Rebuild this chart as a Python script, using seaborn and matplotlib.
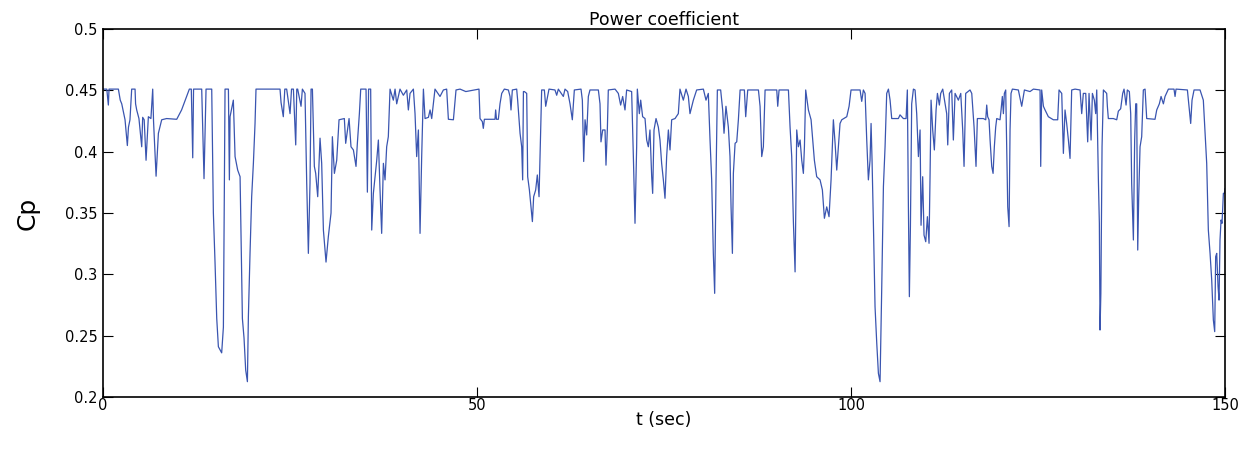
import numpy as np
import pandas as pd
import matplotlib
matplotlib.use("Agg")
import matplotlib.pyplot as plt
import seaborn as sns

title = "Power coefficient"
x_label = "t (sec)"
y_label = "Cp"
x_ticks = [0, 50, 100, 150]
y_ticks = [0.2, 0.25, 0.3, 0.35, 0.4, 0.45, 0.5]
y_tick_labels = ["0.2", "0.25", "0.3", "0.35", "0.4", "0.45", "0.5"]

t_sec = [
    0, 0.5, 0.71, 0.8, 2.05, 2.3, 2.5, 2.94, 3.25, 3.4, 3.6, 3.83, 4.28, 4.35, 4.5, 4.8,
    5.17, 5.3, 5.5, 5.75, 6.06, 6.4, 6.64, 6.75, 7.09, 7.4, 7.84, 8.5, 9.85, 10.5,
    11.54, 11.8, 11.99, 12.1, 13.19, 13.5, 13.77, 14.53, 14.75, 14.97, 15.2, 15.42,
    15.86, 16.09, 16.31, 16.76, 16.89,
    16.98, 17.42, 17.65, 18.0, 18.32, 18.45, 18.63, 18.85, 19.07, 19.3, 19.43, 19.65,
    19.87, 20.1, 20.32, 20.45, 22.0, 23.66, 23.8, 24.1, 24.3, 24.55, 25.0, 25.2, 25.45,
    25.76, 25.9, 26.02, 26.47, 26.65, 27.0, 27.23, 27.45, 27.67, 27.81, 27.99, 28.25,
    28.43, 28.7, 29.01, 29.23, 29.46, 29.81, 30.12, 30.48, 30.66, 30.93, 31.24, 31.55,
    32.26, 32.44, 32.89, 33.15, 33.47, 33.82, 34.0, 34.27, 34.45, 35.16, 35.34, 35.5,
    35.78, 35.92, 36.14, 36.36, 36.59, 36.81, 37.03, 37.25, 37.48, 37.7, 37.92, 38.14,
    38.37, 38.81, 39.04, 39.26, 39.7, 40.15, 40.6, 40.82, 41.04, 41.49, 41.71, 41.93,
    42.16, 42.38, 42.6, 42.83, 43.05, 43.5, 43.72, 43.94, 44.38, 45.05, 45.5, 45.94,
    46.17, 46.84, 47.19, 47.73, 48.5, 50.26,
    50.4, 50.71, 50.84, 50.98, 52.4, 52.49, 52.6, 52.85, 53.07, 53.3, 53.65, 54.19,
    54.41, 54.54, 54.72, 55.3, 55.43, 55.75, 55.97, 56.1, 56.2, 56.33, 56.64, 56.77,
    57.0, 57.22, 57.4, 57.57, 57.84, 58.06, 58.29, 58.46, 58.64, 59.0, 59.18, 59.44,
    59.62, 60.42, 60.65, 60.87, 61.54, 61.76, 62.12, 62.43, 62.74, 63.01, 63.9, 64.08,
    64.26, 64.44, 64.66, 64.88, 65.1, 66.22, 66.44, 66.57, 66.8, 67.11, 67.24, 67.42,
    67.55,
    68.45, 68.89, 69.2, 69.47, 69.78, 70.0, 70.67, 70.9, 71.12, 71.34, 71.43, 71.7,
    71.88, 72.14, 72.46, 72.68, 72.9, 73.12, 73.35, 73.48, 73.66, 73.93, 74.24, 74.46,
    74.68, 74.91, 75.13, 75.35, 75.58, 75.8, 76.02, 76.47, 76.91, 77.13, 77.58, 77.94,
    78.25, 78.47, 78.92, 79.36, 80.26, 80.61, 80.92, 81.15, 81.37, 81.59, 81.77, 81.95,
    82.13, 82.57, 82.84, 83.02, 83.28, 83.6, 83.82,
    83.96, 84.14, 84.27, 84.5, 84.72, 84.94, 85.17, 85.74, 85.92, 86.19, 87.62, 87.84,
    88.06, 88.28, 88.51, 90.07, 90.2, 90.38, 91.63, 91.85, 92.07, 92.3, 92.52, 92.74,
    92.96, 93.19, 93.41, 93.63, 93.77, 93.94, 94.3, 94.66, 94.84, 95.1, 95.41, 95.86,
    96.17, 96.44, 96.75, 97.06, 97.33, 97.64, 97.87, 98.09, 98.31, 98.53, 98.76, 99.43,
    99.74, 100.0, 101.21, 101.43, 101.65, 101.88, 102.1, 102.32, 102.54, 102.68, 102.81,
    102.99, 103.21, 103.44, 103.66, 103.88, 104.1, 104.33, 104.55, 104.77, 105.0,
    105.22, 105.44, 106.33, 106.55, 107.0, 107.36, 107.53, 107.67, 107.8, 107.94,
    108.11, 108.34, 108.56, 108.78, 109.01, 109.23, 109.36, 109.58, 109.76, 109.99,
    110.21, 110.43, 110.57, 110.7, 110.92, 111.14, 111.37, 111.55, 111.81, 111.99,
    112.26, 112.79, 112.93, 113.15, 113.46, 113.68, 113.91, 114.35, 114.67, 114.93,
    115.11, 115.33, 115.91, 116.14, 116.45, 116.71, 116.89, 117.69, 118.01, 118.14,
    118.27, 118.45, 118.59, 118.81, 118.99, 119.16, 119.34, 119.48, 119.92, 120.06,
    120.23, 120.37, 120.5, 120.68, 120.81, 120.95, 121.13, 121.26, 121.39, 121.57,
    122.37, 122.82, 123.18, 123.93, 124.38, 125.27, 125.36, 125.49, 125.72, 125.94,
    126.38, 127.05, 127.63, 127.81, 128.17, 128.39, 128.61, 128.83, 129.06, 129.28,
    129.5, 129.95, 130.62, 130.84, 131.06, 131.38, 131.64, 131.82, 132.09, 132.27,
    132.53, 132.71, 132.85, 133.07, 133.2, 133.29, 133.4, 133.56, 133.74,
    134.18, 134.27, 134.4, 135.07, 135.52, 135.74, 136.05, 136.32, 136.5, 136.77,
    136.94, 137.21, 137.39, 137.52, 137.75, 137.92, 138.06, 138.19, 138.33, 138.46,
    138.64, 138.86, 139.08, 139.31, 139.53, 140.64, 140.87, 141.22, 141.45, 141.76,
    141.98, 142.43, 143.18, 143.32, 143.45, 144.97, 145.23, 145.41, 145.59, 145.86,
    146.66, 147.1, 147.33, 147.55, 147.77, 148.0, 148.22, 148.44, 148.62, 148.75,
    148.89, 149.07, 149.2, 149.33, 149.47, 149.6, 149.78, 149.91, 150.0,
]

cp = [
    0.451, 0.451, 0.438, 0.451, 0.451, 0.442, 0.439, 0.426, 0.405, 0.42, 0.426, 0.451, 0.451, 0.439, 0.434, 0.427,
    0.404, 0.428, 0.426, 0.393, 0.4285, 0.427, 0.451, 0.425, 0.38, 0.415, 0.426, 0.427, 0.4264, 0.434,
    0.451, 0.451, 0.395, 0.451, 0.451, 0.378, 0.451, 0.451, 0.35, 0.31, 0.264, 0.241,
    0.236, 0.257, 0.451, 0.451, 0.377,
    0.4285, 0.442, 0.396, 0.385, 0.3796, 0.332, 0.264, 0.248, 0.222, 0.2125, 0.2655, 0.317,
    0.3633, 0.3905, 0.423, 0.451, 0.451, 0.451, 0.44, 0.4285, 0.451, 0.451, 0.431, 0.451, 0.451,
    0.4055, 0.451, 0.451, 0.437, 0.451, 0.4475, 0.3742, 0.3171, 0.3742, 0.451, 0.451, 0.388,
    0.3823, 0.3633, 0.411, 0.3905, 0.3361, 0.31, 0.3307, 0.35, 0.4122, 0.3823, 0.393, 0.426,
    0.427, 0.4068, 0.427, 0.404, 0.4014, 0.388, 0.4068, 0.431, 0.451, 0.451, 0.367, 0.451,
    0.451, 0.3361, 0.366, 0.3796, 0.393, 0.4095, 0.3688, 0.3334, 0.3905, 0.377, 0.404, 0.4122,
    0.451, 0.442, 0.451, 0.439, 0.451, 0.446, 0.4503, 0.434, 0.4475, 0.451, 0.431, 0.396,
    0.4177, 0.3334, 0.396, 0.451, 0.427, 0.428, 0.434, 0.427, 0.451, 0.445, 0.4503, 0.451,
    0.4264, 0.426, 0.4503, 0.451, 0.449, 0.451,
    0.427, 0.4245, 0.419, 0.4264, 0.4264, 0.434, 0.4264, 0.4264, 0.439, 0.4475, 0.451, 0.4503,
    0.445, 0.434, 0.4503, 0.451, 0.442, 0.415, 0.404, 0.377, 0.449, 0.449, 0.4475, 0.3796,
    0.3688, 0.355, 0.343, 0.3633, 0.3688, 0.381, 0.3633, 0.404, 0.4503, 0.4503, 0.437, 0.445,
    0.451, 0.4503, 0.446, 0.451, 0.445, 0.451, 0.449, 0.439, 0.426, 0.4503, 0.451, 0.442,
    0.392, 0.426, 0.4136, 0.445, 0.4503, 0.4503, 0.439, 0.408, 0.4177, 0.4177, 0.389, 0.4177,
    0.4503,
    0.451, 0.4475, 0.438, 0.445, 0.434, 0.4503, 0.449, 0.396, 0.3416, 0.404, 0.451, 0.431,
    0.442, 0.4285, 0.427, 0.4095, 0.404, 0.4177, 0.3796, 0.366, 0.4177, 0.427, 0.42, 0.4095,
    0.3905, 0.377, 0.362, 0.396, 0.4177, 0.4014, 0.426, 0.427, 0.431, 0.451, 0.442, 0.451,
    0.445, 0.431, 0.442, 0.4503, 0.451, 0.442, 0.4475, 0.4095, 0.377, 0.3171, 0.2845, 0.377,
    0.4503, 0.4503, 0.434, 0.415, 0.437, 0.42, 0.396,
    0.355, 0.3171, 0.3823, 0.4068, 0.408, 0.426, 0.4503, 0.4503, 0.4285, 0.4503, 0.4503, 0.437,
    0.396, 0.404, 0.4503, 0.4503, 0.437, 0.4503, 0.4503, 0.42, 0.396, 0.3416, 0.302, 0.4177,
    0.404, 0.4095, 0.393, 0.3823, 0.404, 0.4503, 0.434, 0.426, 0.4122, 0.393, 0.3796, 0.377,
    0.3688, 0.3457, 0.355, 0.347, 0.377, 0.426, 0.4068, 0.385, 0.404, 0.423, 0.426, 0.4285,
    0.437, 0.4503, 0.4503, 0.441, 0.4503, 0.4475, 0.4095, 0.377, 0.393, 0.423, 0.393,
    0.3416, 0.2736, 0.2438, 0.2193, 0.2125, 0.2872, 0.3715, 0.404, 0.4475, 0.451,
    0.442, 0.427, 0.427, 0.43, 0.427, 0.427, 0.4503, 0.355, 0.2818, 0.3389,
    0.439, 0.451, 0.4503, 0.431, 0.396, 0.4177, 0.34, 0.3796, 0.332, 0.3266,
    0.347, 0.3253, 0.3823, 0.442, 0.4177, 0.4014, 0.434, 0.4475, 0.438, 0.4475,
    0.451, 0.431, 0.4055, 0.4475, 0.4503, 0.4095, 0.4475, 0.442, 0.4475, 0.4177,
    0.388, 0.4475, 0.4503, 0.4475, 0.42, 0.388, 0.427, 0.427, 0.426, 0.438,
    0.4285, 0.426, 0.4095, 0.388, 0.3823, 0.404, 0.42, 0.427, 0.426, 0.434,
    0.445, 0.431, 0.4475, 0.4503, 0.404, 0.355, 0.3389, 0.4177, 0.4475, 0.451,
    0.4503, 0.437, 0.4503, 0.449, 0.451, 0.4503, 0.388, 0.4503, 0.437, 0.434,
    0.4285, 0.426, 0.426, 0.4503, 0.4475, 0.3986, 0.434, 0.423, 0.4095, 0.3945,
    0.4503, 0.451, 0.4503, 0.431, 0.4475, 0.4475, 0.408, 0.4475, 0.4095, 0.4475,
    0.442, 0.431, 0.4503, 0.377, 0.3416, 0.2546, 0.2845, 0.404, 0.4503,
    0.4475, 0.437, 0.427, 0.427, 0.426, 0.433, 0.435, 0.4475, 0.451, 0.438,
    0.4503, 0.449, 0.431, 0.3742, 0.328, 0.4095, 0.439, 0.439, 0.3198, 0.3633,
    0.404, 0.4122, 0.4503, 0.451, 0.427, 0.4264, 0.434, 0.439, 0.445, 0.439,
    0.445, 0.451, 0.451, 0.445, 0.451, 0.4503, 0.434, 0.423, 0.442, 0.4503,
    0.4503, 0.442, 0.415, 0.3905, 0.3361, 0.3171, 0.2954, 0.2628, 0.2533, 0.3144,
    0.3171, 0.29, 0.279, 0.328, 0.3443, 0.3416, 0.366, 0.366, 0.37,
]

df = pd.DataFrame({"t": t_sec, "Cp": cp})

sns.set_theme(style="white")
plt.rcParams["font.family"] = ["DejaVu Sans"]
plt.rcParams["text.color"] = "black"
plt.rcParams["axes.labelcolor"] = "black"
plt.rcParams["xtick.color"] = "black"
plt.rcParams["ytick.color"] = "black"

fig = plt.figure(figsize=(12.49, 4.51), dpi=100)
ax = fig.add_axes([0.0825, 0.1197, 0.8983, 0.816])

sns.lineplot(data=df, x="t", y="Cp", ax=ax, color="#3a55b0", linewidth=0.9,
             estimator=None, sort=False)

ax.set_xlim(0, 150)
ax.set_ylim(0.2, 0.5)
ax.set_xticks(x_ticks)
ax.set_xticklabels([str(v) for v in x_ticks])
ax.set_yticks(y_ticks)
ax.set_yticklabels(y_tick_labels)
ax.tick_params(axis="both", direction="in", length=7, width=0.8, colors="black",
               labelsize=10.5, top=True, right=True, bottom=True, left=True)
ax.tick_params(axis="x", pad=1)
ax.tick_params(axis="y", pad=4)
for s in ax.spines.values():
    s.set_color("black")
    s.set_linewidth(1.2)

ax.set_title(title, fontsize=12.5, pad=3, color="black")
ax.set_xlabel(x_label, fontsize=12.5, labelpad=-2, color="black")
ax.set_ylabel(y_label, fontsize=18, labelpad=18, color="black")

fig.savefig("out.png", dpi=100, facecolor="white")
